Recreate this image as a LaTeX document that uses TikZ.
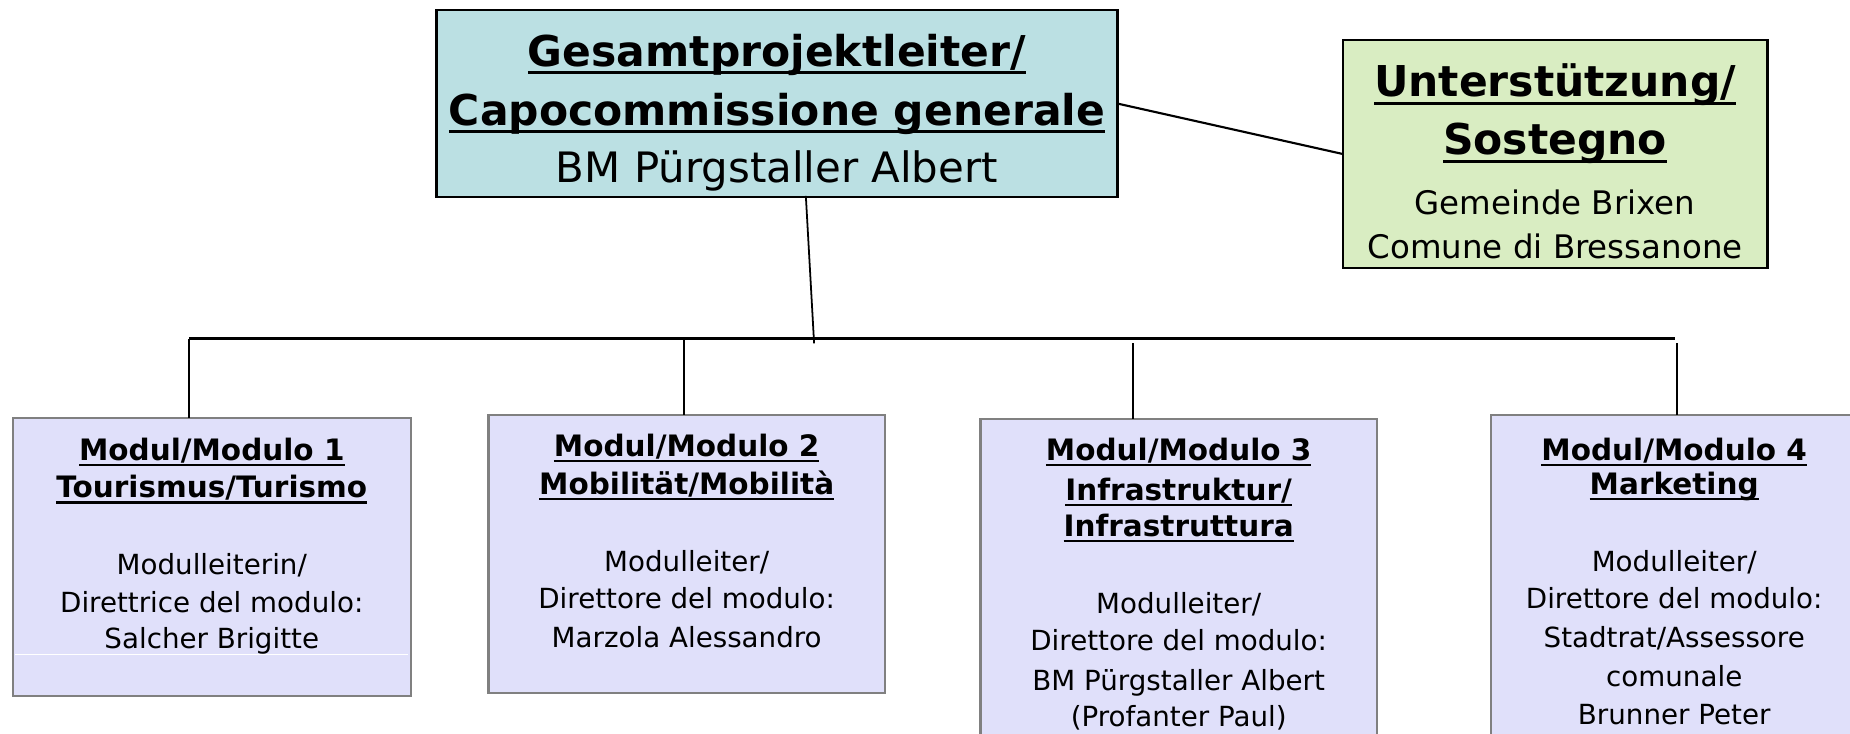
\documentclass[tikz,border=0pt]{standalone}
\usepackage{fontspec}
\setmainfont{DejaVu Sans}
\newcommand{\ulx}[1]{{\setbox0\hbox{#1}\rlap{\rule[-0.19em]{\wd0}{0.07em}}\box0}}
\definecolor{topfill}{RGB}{187,224,227}
\definecolor{supfill}{RGB}{217,237,194}
\definecolor{modfill}{RGB}{224,224,250}
\definecolor{modline}{RGB}{128,128,128}
\tikzset{
  boxbase/.style={rectangle, inner sep=0pt, outer sep=0pt},
  topbox/.style={boxbase, draw=black, line width=2.4pt, fill=topfill},
  supbox/.style={boxbase, draw=black, line width=2pt, fill=supfill},
  modbox/.style={boxbase, draw=modline, line width=1.8pt, fill=modfill},
  txt/.style={inner sep=0pt, anchor=base, text=black},
  bigb/.style={txt, font=\fontsize{36}{40}\selectfont\bfseries},
  bigr/.style={txt, font=\fontsize{35.5}{40}\selectfont},
  midr/.style={txt, font=\fontsize{27.5}{34}\selectfont},
  smb/.style={txt, font=\fontsize{25}{28}\selectfont\bfseries},
  smr/.style={txt, font=\fontsize{23.5}{28}\selectfont},
  conn/.style={draw=black, line width=1.8pt},
  busline/.style={draw=black, line width=2.4pt},
}
\begin{document}
\begin{tikzpicture}[x=1pt, y=-1pt]
\useasboundingbox (0,0) rectangle (1568,621.3);

% boxes
\node[topbox, minimum width=577pt, minimum height=158.5pt] (gp) at (658.5,87.75) {};
\node[supbox, minimum width=360pt, minimum height=193pt] (sup) at (1318,130.5) {};
\node[modbox, minimum width=337pt, minimum height=235.5pt] (m1) at (179.5,472.25) {};
\node[modbox, minimum width=336pt, minimum height=235pt] (m2) at (582,469.5) {};
\node[modbox, minimum width=336pt, minimum height=305pt] (m3) at (999,507.5) {};
\node[modbox, minimum width=316pt, minimum height=308pt] (m4) at (1422,506) {};

% white artefact line in box 1
\draw[white, line width=1pt] (13,555) -- (346,555);

% top box text
\node[bigb] (gp1) at (658.5,56) {\ulx{Gesamtprojektleiter/}};
\node[bigb] (gp2) at (658.5,106) {\ulx{Capocommissione generale}};
\node[bigr] (gp3) at (658.5,155) {BM Pürgstaller Albert};

% support box text
\node[bigb] (su1) at (1318,82) {\ulx{Unterstützung/}};
\node[bigb] (su2) at (1318,131) {\ulx{Sostegno}};
\node[midr] (su3) at (1318,182) {Gemeinde Brixen};
\node[midr] (su4) at (1318,219) {Comune di Bressanone};

% module 1
\node[smb] (a1) at (179.5,390) {\ulx{Modul/Modulo 1}};
\node[smb] (a2) at (179.5,422) {\ulx{Tourismus/Turismo}};
\node[smr] (a3) at (179.5,487) {Modulleiterin/};
\node[smr] (a4) at (179.5,519) {Direttrice del modulo:};
\node[smr] (a5) at (179.5,550) {Salcher Brigitte};

% module 2
\node[smb] (b1) at (582,387) {\ulx{Modul/Modulo 2}};
\node[smb] (b2) at (582,419) {\ulx{Mobilität/Mobilità}};
\node[smr] (b3) at (582,484) {Modulleiter/};
\node[smr] (b4) at (582,516) {Direttore del modulo:};
\node[smr] (b5) at (582,549) {Marzola Alessandro};

% module 3
\node[smb] (c1) at (999,390) {\ulx{Modul/Modulo 3}};
\node[smb] (c2) at (999,424) {\ulx{Infrastruktur/}};
\node[smb] (c3) at (999,455) {\ulx{Infrastruttura}};
\node[smr] (c4) at (999,520) {Modulleiter/};
\node[smr] (c5) at (999,551) {Direttore del modulo:};
\node[smr] (c6) at (999,585) {BM Pürgstaller Albert};
\node[smr] (c7) at (999,616) {(Profanter Paul)};

% module 4
\node[smb] (d1) at (1419,390) {\ulx{Modul/Modulo 4}};
\node[smb] (d2) at (1419,419) {\ulx{Marketing}};
\node[smr] (d3) at (1419,484) {Modulleiter/};
\node[smr] (d4) at (1419,516) {Direttore del modulo:};
\node[smr] (d5) at (1419,549) {Stadtrat/Assessore};
\node[smr] (d6) at (1419,582) {comunale};
\node[smr] (d7) at (1419,614) {Brunner Peter};

% connector points
\coordinate (gpout) at (683,166);
\coordinate (busmid) at (690,291);
\coordinate (busL) at (160,287);
\coordinate (busR) at (1420,287);
\coordinate (dr2) at (580,287);
\coordinate (dr3) at (960,291);
\coordinate (dr4) at (1421,291);

% connectors
\draw[conn] (gp.east) -- (sup.west);
\draw[conn, line width=1.5pt] (gpout) -- (busmid);
\draw[busline] (busL) -- (busR);
\draw[conn] (busL) -- (busL |- m1.north);
\draw[conn] (dr2) -- (dr2 |- m2.north);
\draw[conn] (dr3) -- (dr3 |- m3.north);
\draw[conn] (dr4) -- (dr4 |- m4.north);
\end{tikzpicture}
\end{document}
